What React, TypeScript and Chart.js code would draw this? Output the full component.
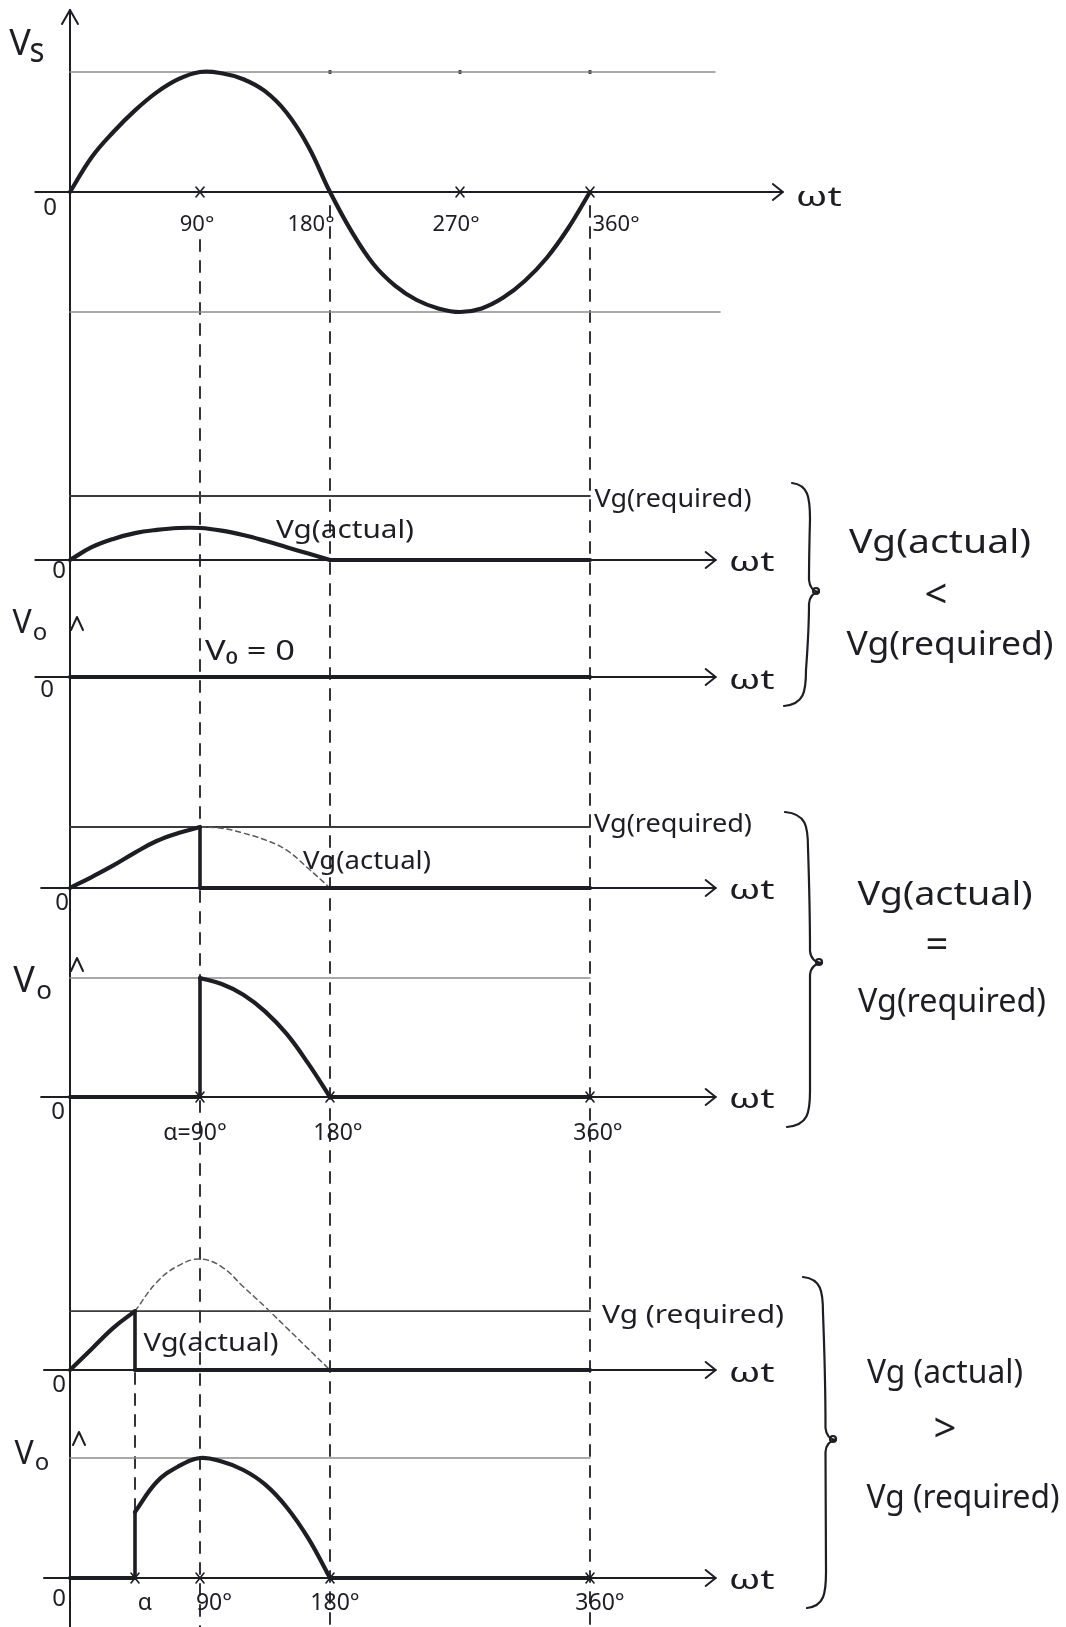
import React, { useEffect, useRef } from 'react';
import { Chart, registerables } from 'chart.js';

Chart.register(...registerables);

// ================= DATA =================
const ANGLES_FULL = [0, 15, 30, 45, 60, 75, 90, 105, 120, 135, 150, 165, 180, 195, 210, 225, 240, 255, 270, 285, 300, 315, 330, 345, 360];
const ANGLES_HALF = [0, 15, 30, 45, 60, 75, 90, 105, 120, 135, 150, 165, 180];

// Supply voltage Vs (per unit of Vm)
const VS = [0, 0.29, 0.5, 0.68, 0.83, 0.94, 1.0, 0.99, 0.94, 0.84, 0.66, 0.38, 0, -0.33, -0.6, -0.78, -0.9, -0.97, -1.0, -0.97, -0.88, -0.74, -0.55, -0.3, 0];

// Case 1: Vg(actual) < Vg(required)   (unit = Vg(required))
const VG_ACTUAL_LOW = [0, 0.2, 0.33, 0.42, 0.47, 0.5, 0.5, 0.46, 0.39, 0.3, 0.2, 0.1, 0];
const VG_REQUIRED_LOW = 1;

// Case 2: Vg(actual) = Vg(required)   (unit = Vg(required))
const VG_ACTUAL_EQUAL = [0, 0.18, 0.37, 0.58, 0.77, 0.9, 1.0, 0.98, 0.9, 0.79, 0.62, 0.32, 0];
const VG_REQUIRED_EQUAL = 1;
const ALPHA_EQUAL = 90;
const VO_EQUAL_ANGLES = [90, 105, 120, 135, 150, 165, 180];
const VO_EQUAL = [1.0, 0.95, 0.86, 0.72, 0.53, 0.28, 0];

// Case 3: Vg(actual) > Vg(required)   (unit = peak of Vg(actual))
const VG_ACTUAL_HIGH = [0, 0.19, 0.38, 0.53, 0.79, 0.94, 1.0, 0.93, 0.75, 0.57, 0.38, 0.19, 0];
const VG_REQUIRED_HIGH = 0.53;
const ALPHA_HIGH = 45;
const VO_HIGH_ANGLES = [45, 60, 75, 90, 105, 120, 135, 150, 165, 180];
const VO_HIGH = [0.55, 0.8, 0.93, 1.0, 0.97, 0.9, 0.78, 0.59, 0.33, 0];

const PERIOD_END = 360;

// Tick labels
const VS_TICK_ANGLES = [90, 180, 270, 360];
const VS_TICK_LABELS = ['90°', '180°', '270°', '360°'];
const EQUAL_TICK_ANGLES = [ALPHA_EQUAL, 180, 360];
const EQUAL_TICK_LABELS = ['α=90°', '180°', '360°'];
const HIGH_TICK_ANGLES = [ALPHA_HIGH, 90, 180, 360];
const HIGH_TICK_LABELS = ['α', '90°', '180°', '360°'];

// ================= LAYOUT / STYLE =================
const PAGE_W = 1066;
const PAGE_H = 1627;
const X_PIX_0 = 70;
const X_PIX_360 = 590;
const PX_PER_DEG = (X_PIX_360 - X_PIX_0) / 360;
const X_MIN = -X_PIX_0 / PX_PER_DEG;
const X_MAX = (PAGE_W - X_PIX_0) / PX_PER_DEG;

const INK = '#1d1d24';
const FONT = '"Noto Sans", "DejaVu Sans", sans-serif';

const PANELS = [
  { id: 'ySupply', zero: 192, unit: 120, axisFrom: -24, axisTo: 493.5, zeroLabel: [50, 208], wtDy: 6 },
  { id: 'yGateLow', zero: 560, unit: 64, axisFrom: -24, axisTo: 447, zeroLabel: [59, 571], wtDy: 3 },
  { id: 'yOutLow', zero: 677, unit: 60, axisFrom: -24, axisTo: 447, zeroLabel: [47, 690], wtDy: 4 },
  { id: 'yGateEqual', zero: 888, unit: 61, axisFrom: -20, axisTo: 447, zeroLabel: [62, 903], wtDy: 3 },
  { id: 'yOutEqual', zero: 1097, unit: 119, axisFrom: -20, axisTo: 447, zeroLabel: [58, 1112], wtDy: 3 },
  { id: 'yGateHigh', zero: 1370, unit: 111, axisFrom: -18, axisTo: 447, zeroLabel: [59, 1385], wtDy: 4 },
  { id: 'yOutHigh', zero: 1578, unit: 120, axisFrom: -18, axisTo: 447, zeroLabel: [59, 1599], wtDy: 3 },
];

const REF_END_TOP = 446.5;
const REF_END_BOTTOM = 450;
const AXIS_TOP = 10;
const OUTPUT_ARROWS = [{ y: 617, dx: 7 }, { y: 958, dx: 7 }, { y: 1432, dx: 9 }];

const GUIDES = [
  { angle: 90, from: 240, to: PAGE_H },
  { angle: 180, from: 206, to: PAGE_H },
  { angle: 360, from: 206, to: PAGE_H },
  { angle: ALPHA_HIGH, from: 1373, to: 1576 },
];
const TOP_DOTS = [180, 270, 360];

const TICK_LAYOUT = [
  { panel: 'ySupply', angles: VS_TICK_ANGLES, labels: VS_TICK_LABELS, dx: [-3, -19, -4, 26], dy: 33, size: 22, crosses: [90, 270, 360] },
  { panel: 'yOutEqual', angles: EQUAL_TICK_ANGLES, labels: EQUAL_TICK_LABELS, dx: [-5, 8, 8], dy: 36, size: 23, crosses: EQUAL_TICK_ANGLES },
  { panel: 'yOutHigh', angles: HIGH_TICK_ANGLES, labels: HIGH_TICK_LABELS, dx: [10, 14, 5, 10], dy: 25, size: 23, crosses: HIGH_TICK_ANGLES },
];

const TEXT_LABELS = [
  { t: 'V', x: 20, y: 45, s: 36 },
  { t: 's', x: 37, y: 52, s: 34, w: 15 },
  // case 1
  { t: 'Vg(required)', x: 673, y: 500, s: 25, w: 157 },
  { t: 'Vg(actual)', x: 345, y: 531, s: 25, w: 138 },
  { t: 'V', x: 22, y: 624, s: 32 },
  { t: 'o', x: 40, y: 633, s: 24 },
  { t: 'V₀ = 0', x: 250, y: 652, s: 28, w: 90 },
  { t: 'Vg(actual)', x: 940, y: 544, s: 32, w: 182 },
  { t: '<', x: 936, y: 597, s: 40 },
  { t: 'Vg(required)', x: 950, y: 646, s: 32, w: 207 },
  // case 2
  { t: 'Vg(required)', x: 673, y: 825, s: 25, w: 158 },
  { t: 'Vg(actual)', x: 367, y: 862, s: 25, w: 128 },
  { t: 'V', x: 24, y: 982, s: 36 },
  { t: 'o', x: 44, y: 992, s: 26 },
  { t: 'Vg(actual)', x: 945, y: 896, s: 32, w: 175 },
  { t: '=', x: 937, y: 947, s: 40 },
  { t: 'Vg(required)', x: 952, y: 1003, s: 32, w: 188 },
  // case 3
  { t: 'Vg (required)', x: 693, y: 1316, s: 25, w: 182 },
  { t: 'Vg(actual)', x: 211, y: 1344, s: 25, w: 135 },
  { t: 'V', x: 24, y: 1455, s: 32 },
  { t: 'o', x: 42, y: 1463, s: 24 },
  { t: 'Vg (actual)', x: 945, y: 1374, s: 32, w: 156 },
  { t: '>', x: 945, y: 1431, s: 40 },
  { t: 'Vg (required)', x: 963, y: 1499, s: 32, w: 193 },
];

const BRACES = [
  { top: 483, bottom: 706, mid: 592, tipTop: 792, tipBottom: 784, bodyTop: 810, bodyBottom: 806, cusp: 819 },
  { top: 812, bottom: 1127, mid: 963, tipTop: 785, tipBottom: 787, bodyTop: 808, bodyBottom: 810, cusp: 822 },
  { top: 1277, bottom: 1608, mid: 1440, tipTop: 803, tipBottom: 807, bodyTop: 823, bodyBottom: 826, cusp: 836 },
];

const STYLE: any = {
  wave: { borderColor: INK, borderWidth: 4.2, order: 0 },
  jump: { borderColor: INK, borderWidth: 3.6, order: 0, tension: 0 },
  ref: { borderColor: '#8d8d8d', borderWidth: 1.6, order: 2, tension: 0 },
  required: { borderColor: '#3c3c3c', borderWidth: 1.8, order: 2, tension: 0 },
  ghost: { borderColor: '#5a5a5a', borderWidth: 1.5, borderDash: [5, 4], order: 1 },
};

// ================= HELPERS =================
const pts = (xs: number[], ys: number[]) => xs.map((x, i) => ({ x, y: ys[i] }));
const flat = (from: number, to: number, y: number) => [{ x: from, y }, { x: to, y }];
const jump = (x: number, y0: number, y1: number) => [{ x, y: y0 }, { x, y: y1 }];
const valueAt = (xs: number[], ys: number[], x: number) => ys[xs.indexOf(x)];
const upTo = (xs: number[], ys: number[], lim: number) => pts(xs, ys).filter((p) => p.x <= lim);
const from = (xs: number[], ys: number[], lim: number) => pts(xs, ys).filter((p) => p.x >= lim);

function ds(yAxisID: string, data: any[], style: any, tension = 0.4) {
  return {
    data,
    yAxisID,
    xAxisID: 'x',
    showLine: true,
    pointRadius: 0,
    pointHoverRadius: 0,
    fill: false,
    tension,
    borderCapStyle: 'round',
    borderJoinStyle: 'round',
    ...style,
  };
}

function buildDatasets() {
  const out: any[] = [];
  // Panel 1: supply
  out.push(ds('ySupply', pts(ANGLES_FULL, VS), STYLE.wave));
  out.push(ds('ySupply', flat(0, REF_END_TOP, 1), STYLE.ref));
  out.push(ds('ySupply', flat(0, REF_END_BOTTOM, -1), STYLE.ref));

  // Case 1
  out.push(ds('yGateLow', flat(0, PERIOD_END, VG_REQUIRED_LOW), STYLE.required));
  out.push(ds('yGateLow', pts(ANGLES_HALF, VG_ACTUAL_LOW), STYLE.wave));
  out.push(ds('yGateLow', flat(180, PERIOD_END, 0), STYLE.wave, 0));
  out.push(ds('yOutLow', flat(0, PERIOD_END, 0), STYLE.wave, 0));

  // Case 2
  const gEq = valueAt(ANGLES_HALF, VG_ACTUAL_EQUAL, ALPHA_EQUAL);
  out.push(ds('yGateEqual', flat(0, PERIOD_END, VG_REQUIRED_EQUAL), STYLE.required));
  out.push(ds('yGateEqual', upTo(ANGLES_HALF, VG_ACTUAL_EQUAL, ALPHA_EQUAL), STYLE.wave));
  out.push(ds('yGateEqual', from(ANGLES_HALF, VG_ACTUAL_EQUAL, ALPHA_EQUAL), STYLE.ghost));
  out.push(ds('yGateEqual', jump(ALPHA_EQUAL, gEq, 0), STYLE.jump, 0));
  out.push(ds('yGateEqual', flat(ALPHA_EQUAL, PERIOD_END, 0), STYLE.wave, 0));

  out.push(ds('yOutEqual', flat(0, PERIOD_END, 1), STYLE.ref));
  out.push(ds('yOutEqual', flat(0, ALPHA_EQUAL, 0), STYLE.wave, 0));
  out.push(ds('yOutEqual', jump(ALPHA_EQUAL, 0, VO_EQUAL[0]), STYLE.jump, 0));
  out.push(ds('yOutEqual', pts(VO_EQUAL_ANGLES, VO_EQUAL), STYLE.wave));
  out.push(ds('yOutEqual', flat(180, PERIOD_END, 0), STYLE.wave, 0));

  // Case 3
  const gHi = valueAt(ANGLES_HALF, VG_ACTUAL_HIGH, ALPHA_HIGH);
  out.push(ds('yGateHigh', flat(0, PERIOD_END, VG_REQUIRED_HIGH), STYLE.required));
  out.push(ds('yGateHigh', upTo(ANGLES_HALF, VG_ACTUAL_HIGH, ALPHA_HIGH), STYLE.wave));
  out.push(ds('yGateHigh', from(ANGLES_HALF, VG_ACTUAL_HIGH, ALPHA_HIGH), STYLE.ghost));
  out.push(ds('yGateHigh', jump(ALPHA_HIGH, gHi, 0), STYLE.jump, 0));
  out.push(ds('yGateHigh', flat(ALPHA_HIGH, PERIOD_END, 0), STYLE.wave, 0));

  out.push(ds('yOutHigh', flat(0, PERIOD_END, 1), STYLE.ref));
  out.push(ds('yOutHigh', flat(0, ALPHA_HIGH, 0), STYLE.wave, 0));
  out.push(ds('yOutHigh', jump(ALPHA_HIGH, 0, VO_HIGH[0]), STYLE.jump, 0));
  out.push(ds('yOutHigh', pts(VO_HIGH_ANGLES, VO_HIGH), STYLE.wave));
  out.push(ds('yOutHigh', flat(180, PERIOD_END, 0), STYLE.wave, 0));
  return out;
}

function buildScales() {
  const scales: any = {
    x: { type: 'linear', min: X_MIN, max: X_MAX, display: false, bounds: 'data' },
  };
  PANELS.forEach((p) => {
    scales[p.id] = {
      type: 'linear',
      position: 'left',
      display: false,
      bounds: 'data',
      min: (p.zero - PAGE_H) / p.unit,
      max: p.zero / p.unit,
    };
  });
  return scales;
}

function seg(ctx: any, x1: number, y1: number, x2: number, y2: number) {
  ctx.beginPath();
  ctx.moveTo(x1, y1);
  ctx.lineTo(x2, y2);
  ctx.stroke();
}

function chevronUp(ctx: any, x: number, y: number, w: number, h: number) {
  ctx.beginPath();
  ctx.moveTo(x - w, y + h);
  ctx.lineTo(x, y);
  ctx.lineTo(x + w, y + h);
  ctx.stroke();
}

function chevronRight(ctx: any, x: number, y: number, w: number, h: number) {
  ctx.beginPath();
  ctx.moveTo(x - w, y - h);
  ctx.lineTo(x, y);
  ctx.lineTo(x - w, y + h);
  ctx.stroke();
}

function fitText(ctx: any, text: string, cx: number, cy: number, size: number, width?: number) {
  ctx.font = `${size}px ${FONT}`;
  const m = ctx.measureText(text).width;
  const sx = width ? width / m : 1;
  ctx.save();
  ctx.translate(cx, cy);
  ctx.scale(sx, 1);
  ctx.textAlign = 'center';
  ctx.textBaseline = 'middle';
  ctx.fillText(text, 0, 0);
  ctx.restore();
}

function brace(ctx: any, b: any) {
  const { top, bottom, mid, tipTop, tipBottom, bodyTop, bodyBottom, cusp } = b;
  const bodyMid = (bodyTop + bodyBottom) / 2;
  ctx.beginPath();
  ctx.moveTo(tipTop, top);
  ctx.bezierCurveTo(bodyTop - 2, top + 2, bodyTop, top + 14, bodyTop, top + 36);
  ctx.quadraticCurveTo(bodyMid + 1, (top + mid) / 2 + 20, bodyMid + 1, mid - 12);
  ctx.quadraticCurveTo(bodyMid + 2, mid - 1, cusp, mid);
  ctx.quadraticCurveTo(bodyMid + 2, mid + 1, bodyMid + 1, mid + 12);
  ctx.quadraticCurveTo(bodyMid + 1, (mid + bottom) / 2 - 20, bodyBottom, bottom - 36);
  ctx.bezierCurveTo(bodyBottom, bottom - 14, bodyBottom - 2, bottom - 2, tipBottom, bottom);
  ctx.stroke();
  ctx.beginPath();
  ctx.arc(cusp - 3, mid - 1, 3, 0, Math.PI * 2);
  ctx.stroke();
}

const annotations = {
  id: 'annotations',
  beforeDatasetsDraw(chart: any) {
    const { ctx } = chart;
    const sx = chart.scales.x;
    const X = (a: number) => sx.getPixelForValue(a);
    const x0 = X(0);
    ctx.save();
    ctx.strokeStyle = INK;
    ctx.fillStyle = INK;
    ctx.lineCap = 'round';
    ctx.lineJoin = 'round';

    // dashed guides
    ctx.lineWidth = 1.8;
    ctx.setLineDash([11, 10]);
    GUIDES.forEach((g) => seg(ctx, X(g.angle), g.from, X(g.angle), g.to));
    ctx.setLineDash([]);

    // vertical axis
    ctx.lineWidth = 2;
    seg(ctx, x0, AXIS_TOP, x0, PAGE_H);
    chevronUp(ctx, x0, AXIS_TOP, 8, 14);
    OUTPUT_ARROWS.forEach((a) => chevronUp(ctx, x0 + a.dx, a.y, 6, 13));

    // horizontal ωt axes
    PANELS.forEach((p) => {
      const y = chart.scales[p.id].getPixelForValue(0);
      ctx.lineWidth = 2;
      seg(ctx, X(p.axisFrom), y, X(p.axisTo), y);
      chevronRight(ctx, X(p.axisTo), y, 10, 8);
    });

    // dots on the peak line of the supply panel
    const yTop = chart.scales.ySupply.getPixelForValue(1);
    TOP_DOTS.forEach((a) => {
      ctx.beginPath();
      ctx.arc(X(a), yTop, 2, 0, Math.PI * 2);
      ctx.fill();
    });
    ctx.restore();
  },
  afterDatasetsDraw(chart: any) {
    const { ctx } = chart;
    const sx = chart.scales.x;
    const X = (a: number) => sx.getPixelForValue(a);
    ctx.save();
    ctx.strokeStyle = INK;
    ctx.fillStyle = INK;
    ctx.lineCap = 'round';
    ctx.lineJoin = 'round';

    // tick crosses and tick labels
    TICK_LAYOUT.forEach((g) => {
      const y = chart.scales[g.panel].getPixelForValue(0);
      ctx.lineWidth = 1.6;
      g.crosses.forEach((a: number) => {
        const x = X(a);
        seg(ctx, x - 4, y - 5, x + 4, y + 5);
        seg(ctx, x + 4, y - 5, x - 4, y + 5);
      });
      g.angles.forEach((a: number, i: number) => {
        fitText(ctx, g.labels[i], X(a) + g.dx[i], y + g.dy, g.size);
      });
    });

    // zero labels and ωt labels
    PANELS.forEach((p) => {
      const y = chart.scales[p.id].getPixelForValue(0);
      fitText(ctx, '0', p.zeroLabel[0], p.zeroLabel[1], 24);
      fitText(ctx, 'ωt', X(p.axisTo) + 36, y + p.wtDy, 27, 46);
    });

    // free text
    TEXT_LABELS.forEach((l: any) => fitText(ctx, l.t, l.x, l.y, l.s, l.w));

    // braces
    ctx.lineWidth = 2.2;
    BRACES.forEach((b) => brace(ctx, b));
    ctx.restore();
  },
};

export default function App() {
  const canvasRef = useRef<HTMLCanvasElement | null>(null);

  useEffect(() => {
    const canvas = canvasRef.current;
    if (!canvas) return;
    const chart = new Chart(canvas, {
      type: 'scatter',
      data: { datasets: buildDatasets() },
      options: {
        responsive: false,
        animation: false,
        devicePixelRatio: 1,
        events: [],
        layout: { padding: 0 },
        plugins: {
          legend: { display: false },
          tooltip: { enabled: false },
          title: { display: false },
        },
        scales: buildScales(),
      } as any,
      plugins: [annotations as any],
    });
    return () => chart.destroy();
  }, []);

  return (
    <div style={{ position: 'absolute', left: 0, top: 0, width: PAGE_W, height: PAGE_H, background: '#ffffff' }}>
      <canvas ref={canvasRef} width={PAGE_W} height={PAGE_H} style={{ display: 'block' }} />
    </div>
  );
}
